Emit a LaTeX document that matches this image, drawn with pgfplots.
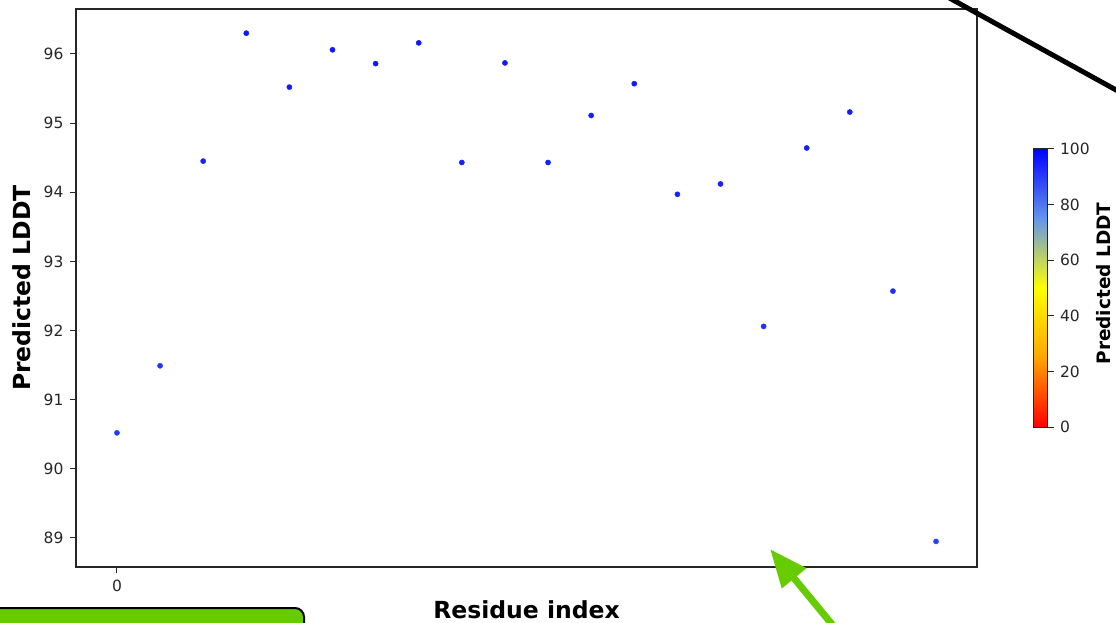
\documentclass[border=0pt]{standalone}
\usepackage{fontspec}
\setmainfont{DejaVu Sans}
\usepackage{pgfplots}
\pgfplotsset{compat=1.18}
\usetikzlibrary{arrows.meta}

\definecolor{annogreen}{RGB}{102,204,0}
\definecolor{axisgray}{RGB}{38,38,38}

\pgfplotsset{
  colormap={lddt}{
    rgb255(0cm)=(255,0,0);
    rgb255(1cm)=(255,165,0);
    rgb255(2cm)=(255,255,0);
    rgb255(3cm)=(100,149,237);
    rgb255(4cm)=(0,0,255)
  }
}

\begin{document}
\begin{tikzpicture}
\useasboundingbox (0,0) rectangle (1116pt,622pt);
\clip (0,0) rectangle (1116pt,622pt);

\begin{axis}[
  at={(76pt,55pt)}, anchor=south west,
  width=901pt, height=558pt, scale only axis,
  xmin=-0.95, xmax=19.95,
  ymin=88.58, ymax=96.65,
  xtick={0}, ytick={89,90,...,96},
  xtick pos=bottom, ytick pos=left,
  tick align=outside,
  major tick length=6pt,
  every tick/.style={axisgray, line width=1pt},
  axis line style={axisgray, line width=1.2pt},
  /pgf/number format/assume math mode=true,
  tick label style={font=\fontsize{15.5}{18}\selectfont, text=axisgray},
  xticklabel style={yshift=-3pt},
  yticklabel style={xshift=-3pt},
  xlabel={Residue index},
  ylabel={Predicted LDDT},
  xlabel style={font=\fontsize{23.5}{28}\selectfont\bfseries,
    at={(axis description cs:0.5,-0.0914)}, anchor=base},
  ylabel style={font=\fontsize{23.5}{28}\selectfont\bfseries,
    at={(axis description cs:-0.06,0.5)}, anchor=center},
  colormap name=lddt,
  point meta min=0, point meta max=100,
  colorbar,
  colorbar style={
    at={(parent axis.south east)}, anchor=south west,
    xshift=48pt, yshift=140pt,
    width=14pt, height=278pt, scale only axis,
    ytick={0,20,...,100},
    yticklabel pos=right, ytick pos=right,
    tick align=outside,
    major tick length=6pt,
    every tick/.style={axisgray, line width=1pt},
    axis line style={axisgray, line width=1pt},
    /pgf/number format/assume math mode=true,
    tick label style={font=\fontsize{15.5}{18}\selectfont, text=axisgray},
    yticklabel style={xshift=3pt},
    ylabel={Predicted LDDT},
    ylabel style={font=\fontsize{18.5}{22}\selectfont\bfseries,
      at={(axis description cs:5.0,0.516)}, anchor=center},
  },
]
\addplot[
  scatter, only marks, mark=*, mark size=2.6pt,
  point meta=y,
  scatter/use mapped color={draw=mapped color, fill=mapped color},
] table {
x y
0 90.52
1 91.49
2 94.45
3 96.30
4 95.52
5 96.06
6 95.86
7 96.16
8 94.43
9 95.87
10 94.43
11 95.11
12 95.57
13 93.97
14 94.12
15 92.06
16 94.64
17 95.16
18 92.57
19 88.95
};
\end{axis}

% callout elements around the chart
\draw[line width=5pt, black] (930pt,634.7pt) -- (1130pt,524.3pt);
\draw[annogreen, line width=7pt, -{Triangle[length=38pt,width=30pt]}]
  (835pt,-6pt) -- (770pt,73pt);
\draw[line width=2pt, black, fill=annogreen, rounded corners=9pt]
  (-12pt,-40pt) rectangle (304pt,14pt);
\end{tikzpicture}
\end{document}
